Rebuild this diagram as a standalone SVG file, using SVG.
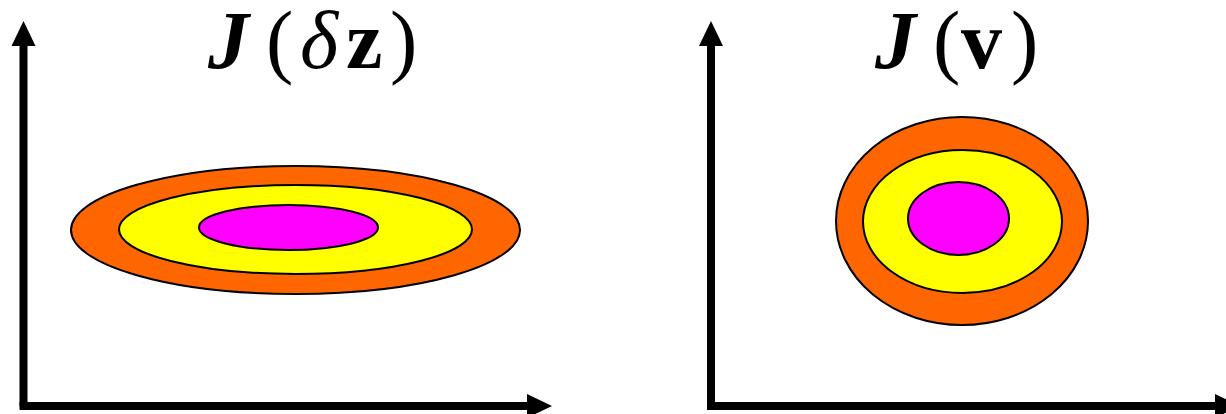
<svg xmlns="http://www.w3.org/2000/svg" width="1226" height="414" viewBox="0 0 1226 414">
<style>
.ax{stroke:#000;stroke-width:8;fill:none}
.e{stroke:#000;stroke-width:2}
.o{fill:#FF6600}.y{fill:#FFFF00}.m{fill:#FF00FF}
.t{font-family:"Liberation Serif",serif;font-size:82px;fill:#000}
</style>
<defs>
<marker id="ah" markerUnits="userSpaceOnUse" markerWidth="26" markerHeight="26" refX="0" refY="12" orient="auto" viewBox="0 0 26 24">
<path d="M0,0 L25,12 L0,24 Z" fill="#000"/>
</marker>
</defs>
<g id="axes-connectors">
<path class="ax" d="M23.5,406 V46" marker-end="url(#ah)"/>
<path class="ax" d="M19.5,406 H527" marker-end="url(#ah)"/>
<path class="ax" d="M711,406 V46" marker-end="url(#ah)"/>
<path class="ax" d="M707,406 H1215" marker-end="url(#ah)"/>
</g>
<g id="left-contours">
<ellipse class="e o" cx="295.5" cy="230" rx="224.5" ry="64"/>
<ellipse class="e y" cx="295.5" cy="229.5" rx="176.5" ry="44.5"/>
<ellipse class="e m" cx="288.5" cy="227.5" rx="89.5" ry="22.5"/>
</g>
<g id="right-contours">
<ellipse class="e o" cx="962" cy="221" rx="126" ry="104"/>
<ellipse class="e y" cx="962.5" cy="221.5" rx="99.5" ry="71.5"/>
<ellipse class="e m" cx="958.5" cy="218.5" rx="50.5" ry="36.5"/>
</g>
<g id="label-left">
<text class="t" y="68"><tspan x="208" font-weight="bold" font-style="italic">J</tspan><tspan x="266">(</tspan><tspan x="300" font-style="italic">δ</tspan><tspan x="346" font-weight="bold">z</tspan><tspan x="390">)</tspan></text>
</g>
<g id="label-right">
<text class="t" y="68"><tspan x="875" font-weight="bold" font-style="italic">J</tspan><tspan x="933">(</tspan><tspan x="961" font-weight="bold">v</tspan><tspan x="1011">)</tspan></text>
</g>
</svg>
